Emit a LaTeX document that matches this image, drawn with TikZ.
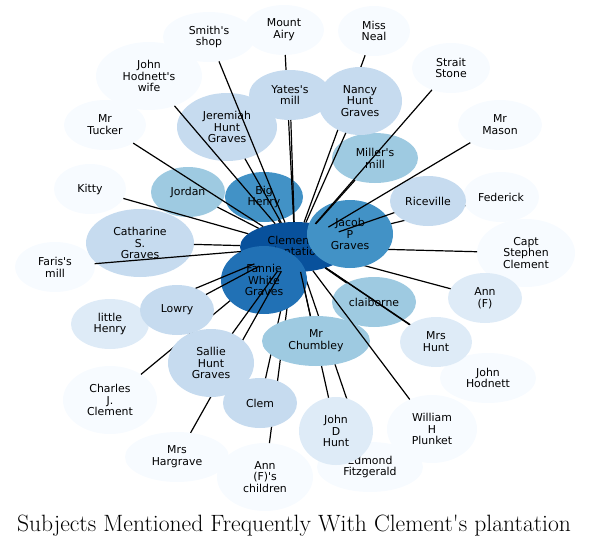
\documentclass[tikz,border=0pt]{standalone}
\usepackage{fontspec}
\usepackage{tikz}
\usetikzlibrary{shapes.geometric}
\newfontfamily\lblfont{DejaVu Sans}
\definecolor{bl0}{HTML}{F7FBFF}
\definecolor{bl1}{HTML}{DEEBF7}
\definecolor{bl2}{HTML}{C6DBEF}
\definecolor{bl3}{HTML}{9ECAE1}
\definecolor{bl5}{HTML}{4292C6}
\definecolor{bl6}{HTML}{2171B5}
\definecolor{bl7}{HTML}{08519C}

\begin{document}
\begin{tikzpicture}[x=1pt, y=-1pt, font=\lblfont\fontsize{10.9}{11.8}\selectfont,
  bub/.style={ellipse, fill=#1, inner sep=0pt, outer sep=0pt, minimum width=76pt, minimum height=50pt, align=center},
  tall/.style={minimum height=68pt},
  link/.style={line width=1.2pt}]
\useasboundingbox (0,0) rectangle (589,546);
% outer ring, rarely mentioned
\node[bub=bl0, minimum width=92pt] (smith) at (209,37) {Smith's\\shop};
\node[bub=bl0, minimum width=80pt] (airy) at (284,30) {Mount\\Airy};
\node[bub=bl0, minimum width=72pt] (neal) at (374,31) {Miss\\Neal};
\node[bub=bl0, minimum width=78pt] (strait) at (451,68) {Strait\\Stone};
\node[bub=bl0, minimum width=84pt] (mason) at (500,125) {Mr\\Mason};
\node[bub=bl0] (federick) at (501,197) {Federick};
\node[bub=bl0, tall, minimum width=98pt] (capt) at (526,253) {Capt\\Stephen\\Clement};
\node[bub=bl0, minimum width=96pt] (hodnett) at (488,378) {John\\Hodnett};
\node[bub=bl0, tall, minimum width=90pt] (plunket) at (432,429) {William\\H\\Plunket};
\node[bub=bl0, minimum width=106pt] (edmond) at (370,467) {Edmond\\Fitzgerald};
\node[bub=bl0, minimum width=104pt] (hargrave) at (177,457) {Mrs\\Hargrave};
\node[bub=bl0, tall, minimum width=96pt] (annkids) at (265,477) {Ann\\(F)'s\\children};
\node[bub=bl0, tall, minimum width=94pt] (charles) at (110,400) {Charles\\J.\\Clement};
\node[bub=bl0, minimum width=80pt] (faris) at (55,267) {Faris's\\mill};
\node[bub=bl0, minimum width=72pt] (kitty) at (90,189) {Kitty};
\node[bub=bl0, minimum width=82pt] (tucker) at (105,125) {Mr\\Tucker};
\node[bub=bl0, tall, minimum width=106pt] (hwife) at (149,76) {John\\Hodnett's\\wife};
% inner ring
\node[bub=bl2, tall, minimum width=100pt] (jeremiah) at (227,127) {Jeremiah\\Hunt\\Graves};
\node[bub=bl2, tall, minimum width=108pt] (catharine) at (140,243) {Catharine\\S.\\Graves};
\node[bub=bl3, minimum width=74pt] (jordan) at (188,192) {Jordan};
\node[bub=bl5, minimum width=78pt] (bighenry) at (264,197) {Big\\Henry};
\node[bub=bl3, minimum width=86pt] (millers) at (375,158) {Miller's\\mill};
\node[bub=bl3, minimum width=84pt] (claiborne) at (374,302) {claiborne};
\node[bub=bl1, minimum width=74pt] (annf) at (485,298) {Ann\\(F)};
\node[bub=bl1, minimum width=78pt] (lhenry) at (110,324) {little\\Henry};
\node[bub=bl7, minimum width=110pt] (plant) at (295,247) {Clement's\\plantation};
% links that run under other bubbles
\foreach \n in {airy,neal,federick,capt,annf,hodnett,edmond,annkids,charles}
  \draw[link] (\n) -- (plant);
\node[bub=bl2, minimum width=82pt] (yates) at (290,95) {Yates's\\mill};
\node[bub=bl2, tall, minimum width=84pt] (nancy) at (360,101) {Nancy\\Hunt\\Graves};
\node[bub=bl2] (riceville) at (428,201) {Riceville};
\node[bub=bl5, tall, minimum width=86pt] (jacob) at (350,234) {Jacob\\P\\Graves};
\node[bub=bl1, minimum width=72pt] (mrshunt) at (436,342) {Mrs\\Hunt};
\node[bub=bl1, tall, minimum width=74pt] (jdhunt) at (336,431) {John\\D\\Hunt};
\node[bub=bl2, minimum width=74pt] (clem) at (260,403) {Clem};
\foreach \n in {jdhunt,clem}
  \draw[link] (\n) -- (plant);
\node[bub=bl3, minimum width=108pt] (chumbley) at (316,341) {Mr\\Chumbley};
\node[bub=bl6, tall, minimum width=86pt] (fannie) at (264,280) {Fannie\\White\\Graves};
\foreach \n in {lhenry,hargrave}
  \draw[link] (\n) -- (plant);
\node[bub=bl2, minimum width=74pt] (lowry) at (177,310) {Lowry};
\node[bub=bl2, tall, minimum width=86pt] (sallie) at (211,363) {Sallie\\Hunt\\Graves};
% links on top
\foreach \n in {smith,hwife,tucker,kitty,faris,catharine,jordan,jeremiah,bighenry,yates,nancy,millers,strait,mason,riceville,claiborne,mrshunt,plunket,chumbley,sallie,lowry}
  \draw[link] (\n) -- (plant);
\node[font=\fontsize{23.6}{28}\selectfont, anchor=base] (title) at (294,531) {Subjects Mentioned Frequently With Clement\textquotesingle s plantation};
\end{tikzpicture}
\end{document}
